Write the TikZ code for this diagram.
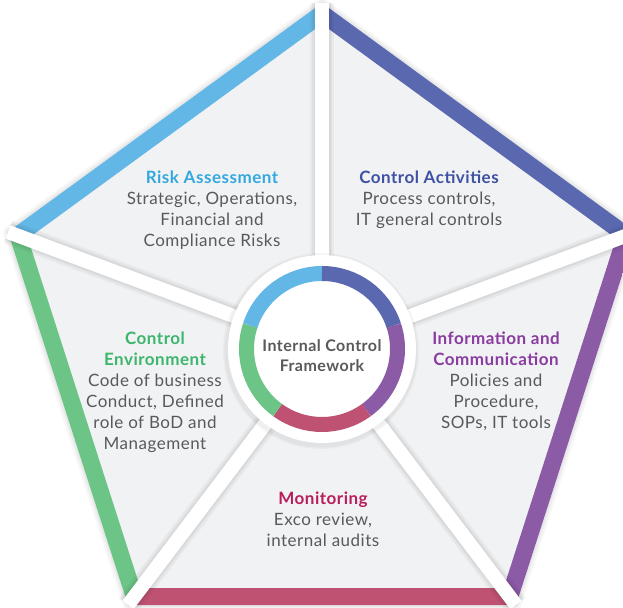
\documentclass[tikz,border=0pt]{standalone}
\usepackage{fontspec}
\setmainfont{Lato}[LetterSpace=3]
\usetikzlibrary{calc}
\definecolor{bandblue}{HTML}{63B7E6}
\definecolor{banddark}{HTML}{5A68B0}
\definecolor{bandpurple}{HTML}{8B5BA6}
\definecolor{bandred}{HTML}{BF5273}
\definecolor{bandgreen}{HTML}{6CC487}
\definecolor{secfill}{HTML}{F1F2F4}
\definecolor{bodygray}{HTML}{58595B}
\definecolor{tblue}{HTML}{33A8E0}
\definecolor{tdark}{HTML}{3F51A3}
\definecolor{tpurple}{HTML}{8A3BA0}
\definecolor{tred}{HTML}{B81E5E}
\definecolor{tgreen}{HTML}{3DB56C}
\begin{document}
\begin{tikzpicture}[x=1pt,y=1pt,
  sector/.style={fill=secfill},
  band/.style={line width=34pt},
  divider/.style={line width=14pt, white},
  dshadow/.style={line width=#1, black, opacity=0.035},
  ring/.style={line width=15pt},
  label/.style={font=\fontsize{17}{21}\selectfont, text=bodygray, align=center, inner sep=0pt},
  hub/.style={font=\bfseries\fontsize{16}{20}\selectfont, text=bodygray, align=center, inner sep=0pt}]
\useasboundingbox (0,0) rectangle (623,607);
\clip (0,0) rectangle (623,607);
\fill[white] (0,0) rectangle (623,607);
\coordinate (C) at (322,258);
\coordinate (T) at (322,604);
\coordinate (L) at (8,375);
\coordinate (R) at (636,375);
\coordinate (BL) at (128,2);
\coordinate (BR) at (516,2);
% outer soft shadow
\foreach \w in {10,6,3}{
  \draw[line width=\w pt, black, opacity=0.03, line join=round, shift={(-1,-2)}] (T)--(R)--(BR)--(BL)--(L)--cycle;
}
% sectors and bands
\foreach \a/\b/\c in {T/L/bandblue, R/T/banddark, BR/R/bandpurple, BL/BR/bandred, L/BL/bandgreen}{
  \fill[sector] (C)--(\a)--(\b)--cycle;
  \begin{scope}
    \clip (C)--(\a)--(\b)--cycle;
    \draw[band, \c] (\a)--(\b);
  \end{scope}
}
% divider shadows
\foreach \v in {T,L,R,BL,BR}{
  \foreach \w in {24,20,17}{
    \draw[dshadow=\w pt, shift={(-2,-3)}] (C)--(\v);
  }
}
% dividers
\foreach \v in {T,L,R,BL,BR}{
  \draw[divider] (C)--(\v);
}
% hub
\foreach \w in {8,5}{
  \draw[line width=\w pt, black, opacity=0.03] ($(C)+(-1,-2)$) circle[radius=94];
}
\fill[white] (C) circle[radius=94];
\draw[ring, bandblue] ($(C)+(90:75.5)$) arc[start angle=90, end angle=162, radius=75.5];
\draw[ring, banddark] ($(C)+(18:75.5)$) arc[start angle=18, end angle=90, radius=75.5];
\draw[ring, bandpurple] ($(C)+(-54:75.5)$) arc[start angle=-54, end angle=18, radius=75.5];
\draw[ring, bandred] ($(C)+(-126:75.5)$) arc[start angle=-126, end angle=-54, radius=75.5];
\draw[ring, bandgreen] ($(C)+(162:75.5)$) arc[start angle=162, end angle=234, radius=75.5];
\node[hub] (hubtext) at (322,251) {Internal Control\\Framework};
% labels
\node[label] (risk) at (212,396.5) {{\bfseries\color{tblue}Risk Assessment}\\Strategic, Operations,\\Financial and\\Compliance Risks};
\node[label] (activities) at (429,407) {{\bfseries\color{tdark}Control Activities}\\Process controls,\\IT general controls};
\node[label] (info) at (496,225.5) {{\bfseries\color{tpurple}Information and}\\{\bfseries\color{tpurple}Communication}\\Policies and\\Procedure,\\SOPs, IT tools};
\node[label] (environment) at (155,214.5) {{\bfseries\color{tgreen}Control}\\{\bfseries\color{tgreen}Environment}\\Code of business\\Conduct, Defined\\role of BoD and\\Management};
\node[label] (monitoring) at (323,87.5) {{\bfseries\color{tred}Monitoring}\\Exco review,\\internal audits};
\end{tikzpicture}
\end{document}
